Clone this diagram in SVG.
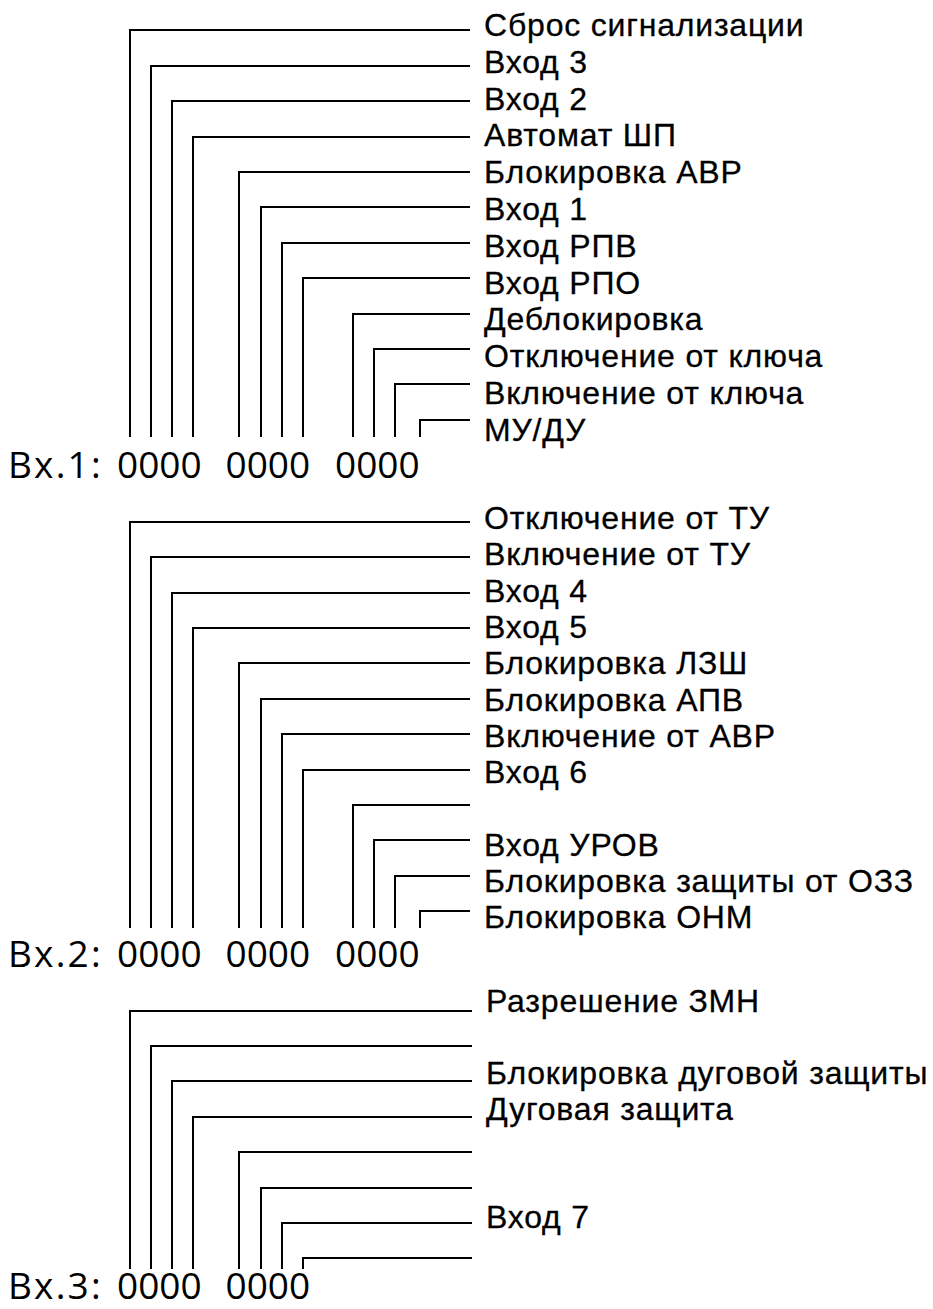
<svg xmlns="http://www.w3.org/2000/svg" width="933" height="1309" viewBox="0 0 933 1309">
<style>
.bg{fill:#fff}
.conn path{fill:none;stroke:#000;stroke-width:2;stroke-linejoin:miter;stroke-linecap:butt}
.lbl{font-family:"Liberation Sans",Arial,sans-serif;font-size:32px;letter-spacing:0.8px;fill:#000;stroke:#000;stroke-width:0.3px}
.reg{font-family:"Open Sans","DejaVu Sans",sans-serif;font-size:37px;fill:#000}
.pre{letter-spacing:2.2px}
</style>
<rect class="bg" x="0" y="0" width="933" height="1309"/>
<g id="connectors" class="conn">
<path d="M130,437V30H470"/>
<path d="M151,437V66H470"/>
<path d="M172,437V101H470"/>
<path d="M193,437V137H470"/>
<path d="M239,437V172H470"/>
<path d="M261,437V207H470"/>
<path d="M282,437V243H470"/>
<path d="M303,437V278H470"/>
<path d="M353,437V314H470"/>
<path d="M374,437V349H470"/>
<path d="M395,437V384H470"/>
<path d="M420,437V420H470"/>

<path d="M130,928V522H470"/>
<path d="M151,928V557H470"/>
<path d="M172,928V593H470"/>
<path d="M193,928V628H470"/>
<path d="M239,928V663H470"/>
<path d="M261,928V699H470"/>
<path d="M282,928V734H470"/>
<path d="M303,928V770H470"/>
<path d="M353,928V805H470"/>
<path d="M374,928V840H470"/>
<path d="M395,928V876H470"/>
<path d="M420,928V911H470"/>

<path d="M130,1269V1011H472"/>
<path d="M151,1269V1046H472"/>
<path d="M172,1269V1081H472"/>
<path d="M193,1269V1117H472"/>
<path d="M239,1269V1152H472"/>
<path d="M261,1269V1188H472"/>
<path d="M282,1269V1223H472"/>
<path d="M303,1269V1258H472"/>
</g>

<g id="in1-bit11"><text class="lbl" x="484" y="36">Сброс сигнализации</text></g>
<g id="in1-bit10"><text class="lbl" x="484" y="72.8">Вход 3</text></g>
<g id="in1-bit9"><text class="lbl" x="484" y="109.6">Вход 2</text></g>
<g id="in1-bit8"><text class="lbl" x="484" y="146.4">Автомат ШП</text></g>
<g id="in1-bit7"><text class="lbl" x="484" y="183.2">Блокировка АВР</text></g>
<g id="in1-bit6"><text class="lbl" x="484" y="220">Вход 1</text></g>
<g id="in1-bit5"><text class="lbl" x="484" y="256.8">Вход РПВ</text></g>
<g id="in1-bit4"><text class="lbl" x="484" y="293.6">Вход РПО</text></g>
<g id="in1-bit3"><text class="lbl" x="484" y="330.4">Деблокировка</text></g>
<g id="in1-bit2"><text class="lbl" x="484" y="367.2">Отключение от ключа</text></g>
<g id="in1-bit1"><text class="lbl" x="484" y="404">Включение от ключа</text></g>
<g id="in1-bit0"><text class="lbl" x="484" y="440.8">МУ/ДУ</text></g>
<g id="in1-register"><text class="reg" y="478"><tspan class="pre" x="8">Вх.1:</tspan><tspan x="117">0000</tspan><tspan x="225.5">0000</tspan><tspan x="335">0000</tspan></text></g>

<g id="in2-bit11"><text class="lbl" x="484" y="529">Отключение от ТУ</text></g>
<g id="in2-bit10"><text class="lbl" x="484" y="565.3">Включение от ТУ</text></g>
<g id="in2-bit9"><text class="lbl" x="484" y="601.6">Вход 4</text></g>
<g id="in2-bit8"><text class="lbl" x="484" y="637.9">Вход 5</text></g>
<g id="in2-bit7"><text class="lbl" x="484" y="674.2">Блокировка ЛЗШ</text></g>
<g id="in2-bit6"><text class="lbl" x="484" y="710.5">Блокировка АПВ</text></g>
<g id="in2-bit5"><text class="lbl" x="484" y="746.8">Включение от АВР</text></g>
<g id="in2-bit4"><text class="lbl" x="484" y="783.1">Вход 6</text></g>
<g id="in2-bit2"><text class="lbl" x="484" y="855.7">Вход УРОВ</text></g>
<g id="in2-bit1"><text class="lbl" x="484" y="892">Блокировка защиты от ОЗЗ</text></g>
<g id="in2-bit0"><text class="lbl" x="484" y="928.3">Блокировка ОНМ</text></g>
<g id="in2-register"><text class="reg" y="967"><tspan class="pre" x="8">Вх.2:</tspan><tspan x="117">0000</tspan><tspan x="225.5">0000</tspan><tspan x="335">0000</tspan></text></g>

<g id="in3-bit7"><text class="lbl" x="486" y="1012">Разрешение ЗМН</text></g>
<g id="in3-bit5"><text class="lbl" x="486" y="1084">Блокировка дуговой защиты</text></g>
<g id="in3-bit4"><text class="lbl" x="486" y="1120">Дуговая защита</text></g>
<g id="in3-bit1"><text class="lbl" x="486" y="1228">Вход 7</text></g>
<g id="in3-register"><text class="reg" y="1299"><tspan class="pre" x="8">Вх.3:</tspan><tspan x="117">0000</tspan><tspan x="225.5">0000</tspan></text></g>
</svg>
